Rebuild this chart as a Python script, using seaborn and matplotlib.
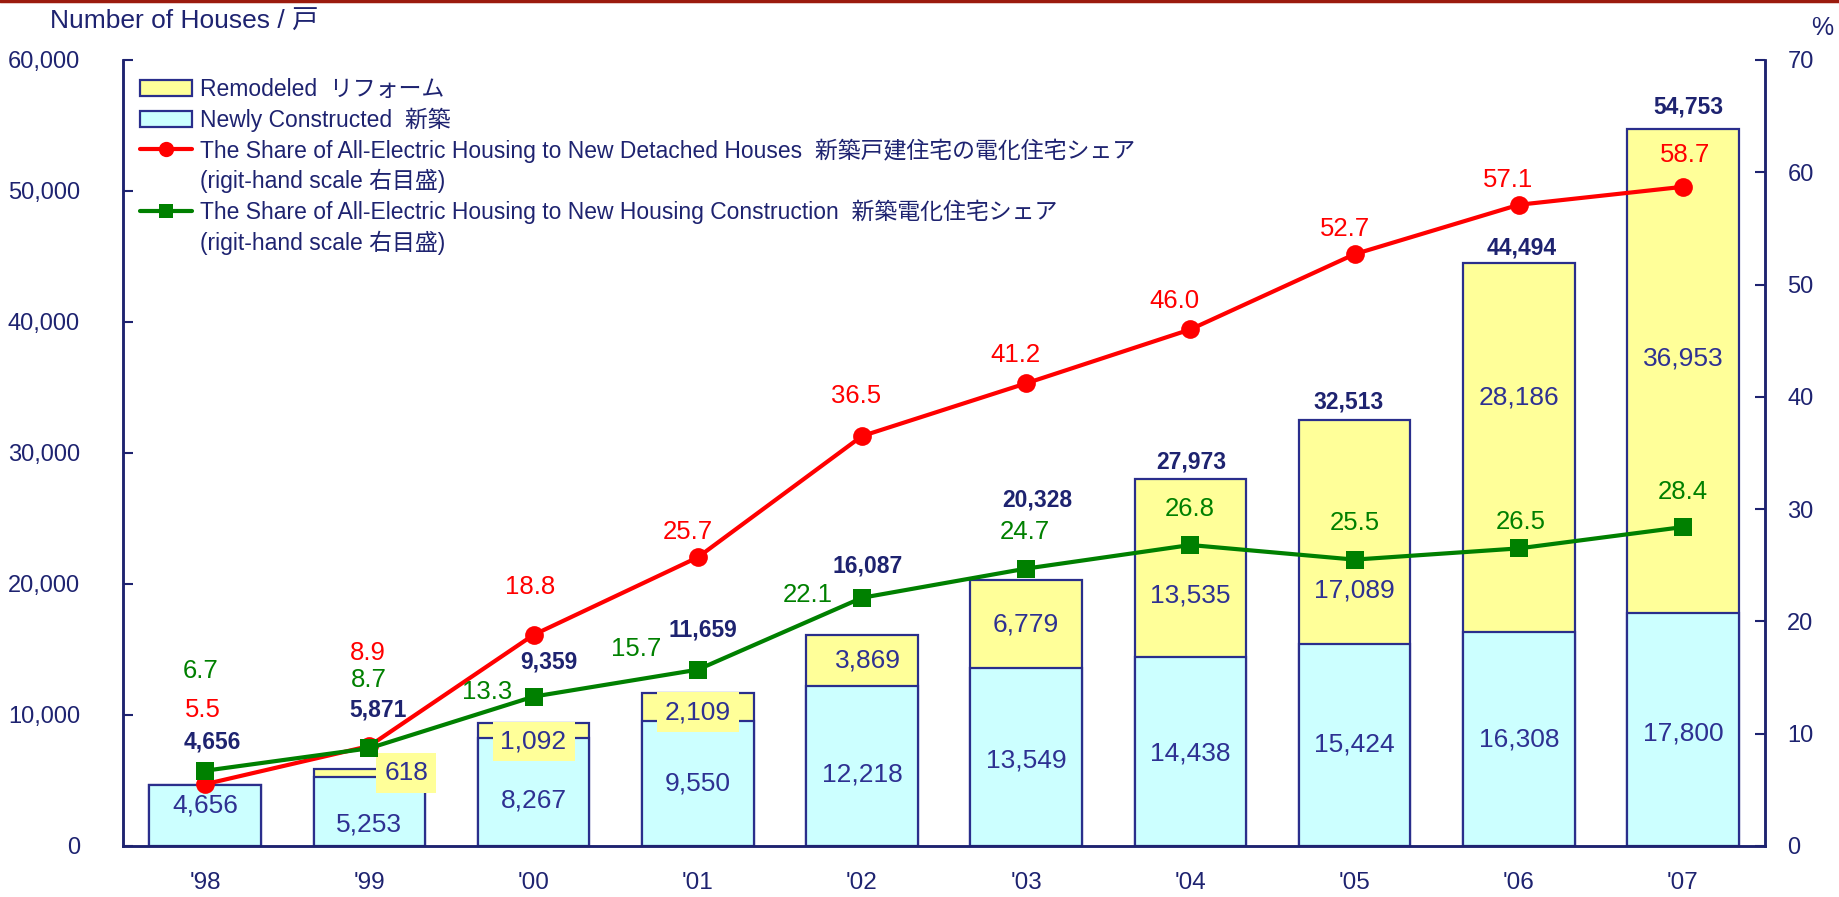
import matplotlib
matplotlib.use("Agg")
import matplotlib.pyplot as plt
from matplotlib.lines import Line2D
from matplotlib.patches import Patch
from matplotlib.ticker import FixedLocator, FuncFormatter, MultipleLocator
import numpy as np
import pandas as pd
import seaborn as sns

years = ["'98", "'99", "'00", "'01", "'02", "'03", "'04", "'05", "'06", "'07"]
newly_built = [4656, 5253, 8267, 9550, 12218, 13549, 14438, 15424, 16308, 17800]
remodeled = [0, 618, 1092, 2109, 3869, 6779, 13535, 17089, 28186, 36953]
share_detached = [5.5, 8.9, 18.8, 25.7, 36.5, 41.2, 46.0, 52.7, 57.1, 58.7]
share_all_new = [6.7, 8.7, 13.3, 15.7, 22.1, 24.7, 26.8, 25.5, 26.5, 28.4]

# hand placed label offsets in pixels, (dx, dy)
total_off = [(7, 43), (9, 59), (15, 61), (5, 63), (6, 69), (11, 80), (1, 17), (-6, 18), (3, 15), (5, 22)]
red_off = [(-2, 74), (-2, 93), (-3, 48), (-10, 25), (-6, 40), (-11, 28), (-16, 28), (-10, 25), (-11, 25), (2, 32)]
green_off = [(-5, 100), (-1, 68), (-46, 5), (-62, 21), (-54, 3), (-1, 37), (-1, 36), (0, 37), (2, 26), (0, 35)]
new_off = [(0, 10), (0, -13), (0, -9), (0, 0), (0, -9), (0, -3), (0, -2), (0, 0), (0, 0), (0, -4)]
rem_off = [(0, 0), (37, 0), (0, -11), (0, -5), (6, 0), (0, 0), (0, -27), (0, -59), (0, 50), (0, 12)]

NAVY = "#1E2370"
EDGE = "#2A2E8C"
SEG_TXT = "#2E3192"
YELLOW = "#FFFF99"
CYAN = "#CCFFFF"
RED = "#FF0000"
GREEN = "#008000"

sns.set_style("white")
plt.rcParams["font.family"] = ["Liberation Sans", "Noto Sans CJK JP", "DejaVu Sans"]

df = pd.DataFrame({
    "year": years,
    "newly": newly_built,
    "remodeled": remodeled,
    "detached": share_detached,
    "all_new": share_all_new,
})
df["total"] = df["newly"] + df["remodeled"]

fig = plt.figure(figsize=(18.39, 8.97), dpi=100)
ax = fig.add_axes([0.0669, 0.0569, 0.8929, 0.8763])

sns.barplot(data=df, x="year", y="total", color=YELLOW, saturation=1, width=0.68,
            edgecolor=EDGE, linewidth=1.6, errorbar=None, ax=ax)
sns.barplot(data=df, x="year", y="newly", color=CYAN, saturation=1, width=0.68,
            edgecolor=EDGE, linewidth=1.6, errorbar=None, ax=ax)

ax.set_xlim(-0.5, 9.5)
ax.set_ylim(0, 60000)
ax.yaxis.set_major_locator(MultipleLocator(10000))
ax.yaxis.set_major_formatter(FuncFormatter(lambda v, p: f"{v:,.0f}"))
ax.set_xlabel("")
ax.set_ylabel("")
ax.xaxis.set_minor_locator(FixedLocator(np.arange(0.5, 9.5, 1.0)))
ax.tick_params(axis="x", which="major", length=0, pad=19, labelsize=17.5, colors=NAVY)
ax.tick_params(axis="x", which="minor", direction="in", length=7, width=1.5, color=NAVY)
ax.tick_params(axis="y", direction="in", length=7, width=1.5, pad=31, labelsize=17, colors=NAVY)
for s in ["left", "bottom", "right"]:
    ax.spines[s].set_color(NAVY)
    ax.spines[s].set_linewidth(1.8)
ax.spines["top"].set_visible(False)

# segment and total labels
for i, row in df.iterrows():
    ax.annotate(f"{row['newly']:,}", (i, row["newly"] / 2), xytext=new_off[i],
                textcoords="offset pixels", ha="center", va="center", fontsize=19, color=SEG_TXT)
    if row["remodeled"] > 0:
        box = None
        if row["remodeled"] < 2500:
            box = dict(boxstyle="square,pad=0.3", fc=YELLOW, ec="none")
        ax.annotate(f"{row['remodeled']:,}", (i, row["newly"] + row["remodeled"] / 2),
                    xytext=rem_off[i], textcoords="offset pixels", ha="center", va="center",
                    fontsize=19, color=SEG_TXT, bbox=box)
    ax.annotate(f"{row['total']:,}", (i, row["total"]), xytext=total_off[i],
                textcoords="offset pixels", ha="center", va="center", fontsize=16.5,
                fontweight="bold", color=NAVY)

ax2 = ax.twinx()
sns.lineplot(data=df, x="year", y="detached", color=RED, marker="o", markersize=13.5,
             markeredgewidth=0, linewidth=3, ax=ax2)
sns.lineplot(data=df, x="year", y="all_new", color=GREEN, marker="s", markersize=12.5,
             markeredgewidth=0, linewidth=3, ax=ax2)
ax2.set_ylim(0, 70)
ax2.yaxis.set_major_locator(MultipleLocator(10))
ax2.set_ylabel("")
ax2.set_xlabel("")
ax2.tick_params(axis="y", direction="in", length=7, width=1.5, pad=16, labelsize=17, colors=NAVY)
for s in ["left", "bottom", "right"]:
    ax2.spines[s].set_color(NAVY)
    ax2.spines[s].set_linewidth(1.8)
ax2.spines["top"].set_visible(False)

for i, row in df.iterrows():
    ax2.annotate(f"{row['detached']:.1f}", (i, row["detached"]), xytext=red_off[i],
                 textcoords="offset pixels", ha="center", va="center", fontsize=18.5, color=RED)
    ax2.annotate(f"{row['all_new']:.1f}", (i, row["all_new"]), xytext=green_off[i],
                 textcoords="offset pixels", ha="center", va="center", fontsize=18.5, color=GREEN)

handles = [
    Patch(facecolor=YELLOW, edgecolor=EDGE, linewidth=1.6),
    Patch(facecolor=CYAN, edgecolor=EDGE, linewidth=1.6),
    Line2D([], [], color=RED, marker="o", lw=3, ms=11, mew=0),
    Line2D([], [], color="none"),
    Line2D([], [], color=GREEN, marker="s", lw=3, ms=10, mew=0),
    Line2D([], [], color="none"),
]
labels = [
    "Remodeled  リフォーム",
    "Newly Constructed  新築",
    "The Share of All-Electric Housing to New Detached Houses  新築戸建住宅の電化住宅シェア",
    "(rigit-hand scale 右目盛)",
    "The Share of All-Electric Housing to New Housing Construction  新築電化住宅シェア",
    "(rigit-hand scale 右目盛)",
]
leg = ax2.legend(handles, labels, loc="upper left", bbox_to_anchor=(0.0104, 0.977),
                 frameon=False, fontsize=16.5, handlelength=2.25, handletextpad=0.35,
                 labelspacing=0.28, borderpad=0, borderaxespad=0)
for t in leg.get_texts():
    t.set_color(NAVY)

fig.text(50 / 1839, 1 - 22 / 897, "Number of Houses / 戸", ha="left", va="center",
         fontsize=19, color=NAVY)
fig.text(1822 / 1839, 1 - 28 / 897, "%", ha="center", va="center", fontsize=18, color=NAVY)
fig.add_artist(Line2D([0, 1], [0.999, 0.999], transform=fig.transFigure, color="#9B1B0E", lw=2.5))

fig.savefig("out.png", dpi=100)
